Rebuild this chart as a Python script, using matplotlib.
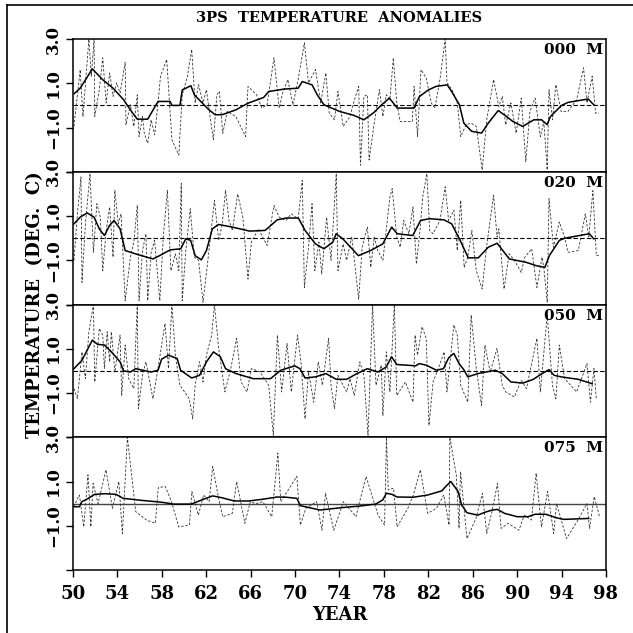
import matplotlib
matplotlib.use("Agg")
import matplotlib.pyplot as plt
from matplotlib.lines import Line2D

# ---- data (year, deg C) ----
depths = ['000  M', '020  M', '050  M', '075  M']

yr_000_raw = [50.09, 50.65, 50.90, 51.43, 51.65, 51.90, 51.96, 52.37, 52.68, 52.99, 53.30, 53.61, 53.93,
              54.24, 54.70, 54.77, 55.17, 55.48, 55.79, 55.95, 56.26, 56.42, 56.73, 57.04, 57.35, 57.66,
              57.88, 58.44, 58.91, 59.53, 59.84, 60.31, 60.69, 61.00, 61.31, 61.71, 62.02, 62.34, 62.65,
              62.96, 63.18, 63.49, 63.89, 64.67, 65.55, 65.76, 66.54, 67.01, 67.48, 68.10, 68.57, 68.88,
              69.35, 69.81, 70.28, 70.84, 71.21, 71.84, 72.31, 72.77, 73.08, 73.55, 73.86, 74.33, 74.95,
              75.26, 75.73, 75.89, 76.20, 76.51, 76.67, 77.13, 77.60, 77.91, 78.22, 78.54, 78.85, 79.16,
              79.47, 80.56, 80.72, 81.03, 81.34, 81.81, 82.27, 82.59, 83.05, 83.52, 83.68, 84.14, 84.61,
              84.92, 85.39, 85.86, 86.32, 86.85, 87.26, 87.88, 88.35, 88.66, 88.97, 89.44, 89.91, 90.37,
              90.78, 91.15, 91.62, 92.09, 92.40, 92.71, 92.87, 93.18, 93.49, 93.96, 94.58, 95.36, 95.98,
              96.29, 96.76, 97.07, 97.38]
t_000_raw = [-0.95, 1.62, -0.5, 3.0, 1.32, 3.0, -0.5, 0.71, 2.15, 0.11, 1.47, 0.41, 1.02,
             0.56, 1.95, -0.88, 0.03, -0.95, 0.48, -1.41, -0.5, -1.26, -1.71, -0.65, -1.33, 0.11,
             1.32, 2.08, -1.56, -2.24, 0.48, 1.32, 2.53, 0.11, 0.94, 0.11, 0.71, -0.5, -1.56,
             0.48, 0.64, -1.26, -0.27, -0.5, -1.41, 0.86, 0.48, -0.12, 0.03, 2.15, -0.12, 0.56,
             1.17, 0.03, 1.17, 2.83, 1.02, 1.62, 0.11, 1.47, -0.35, -0.65, 0.64, -0.95, -0.5,
             0.11, 0.86, -2.7, 0.41, 0.48, -2.47, -0.8, 0.71, -0.5, 0.48, 0.26, 2.15, 0.11,
             -0.73, -0.73, 0.86, -1.41, 1.62, 1.24, 0.11, -0.12, 1.17, 3.0, 1.02, 0.71, 0.11,
             -1.41, -0.88, -0.8, -0.95, -2.92, -0.65, 1.17, -0.05, 0.41, -0.88, 0.11, -1.26, 0.33,
             -2.55, -0.27, 0.33, -1.41, -0.73, -2.92, 0.71, -0.65, 0.94, -0.27, -0.27, 0.26, 1.7,
             0.11, 1.32, -0.35, -0.35]
yr_000_smooth = [50.1, 50.65, 51.74, 52.68, 53.61, 54.55, 55.17, 55.79, 56.73, 57.66, 58.75, 58.91, 59.63,
                 59.84, 60.62, 60.93, 62.18, 62.8, 63.43, 64.67, 65.76, 67.17, 67.63, 69.03, 70.28, 70.65,
                 71.53, 72.0, 72.6, 74.0, 75.3, 76.2, 77.1, 77.8, 78.5, 79.2, 80.7, 81.2, 82.0, 82.7,
                 83.7, 84.1, 84.8, 85.2, 85.9, 86.8, 87.4, 88.3, 88.96, 89.6, 90.5, 91.5, 92.2, 92.7,
                 93.0, 94.0, 94.6, 96.4, 96.9]
t_000_smooth = [0.53, 0.78, 1.65, 1.16, 0.78, 0.26, -0.2, -0.62, -0.62, 0.18, 0.18, 0.0, 0.0,
                0.7, 0.89, 0.48, -0.17, -0.42, -0.42, -0.2, 0.1, 0.36, 0.63, 0.74, 0.78, 1.08,
                0.93, 0.48, 0.03, -0.27, -0.45, -0.65, -0.32, 0.03, 0.33, -0.12, -0.12, 0.4, 0.7, 0.86,
                0.93, 0.63, 0.03, -0.8, -1.17, -1.25, -0.8, -0.23, -0.47, -0.72, -0.95, -0.65, -0.65, -0.87,
                -0.5, 0.0, 0.14, 0.29, 0.03]

yr_020_raw = [50.09, 50.40, 50.72, 50.81, 51.12, 51.53, 51.84, 52.15, 52.46, 52.68, 52.99, 53.30, 53.61,
              53.77, 54.08, 54.33, 54.70, 55.17, 55.48, 55.79, 55.95, 56.26, 56.57, 56.73, 57.04, 57.35,
              57.82, 58.13, 58.50, 58.82, 59.22, 59.53, 59.75, 59.84, 60.16, 60.56, 60.93, 61.31, 61.71,
              62.18, 62.74, 63.12, 63.43, 63.74, 64.05, 64.36, 64.83, 65.30, 65.76, 66.07, 66.70, 67.48,
              68.10, 68.57, 69.19, 69.66, 70.28, 70.65, 70.84, 71.21, 71.53, 71.78, 72.15, 72.40, 72.84,
              73.24, 73.71, 73.86, 74.33, 74.64, 75.11, 75.73, 76.04, 76.51, 76.82, 77.13, 77.45, 77.91,
              78.22, 78.54, 78.75, 79.16, 79.47, 79.78, 80.25, 80.62, 80.93, 81.25, 81.50, 81.87, 82.12,
              82.43, 83.05, 83.52, 83.83, 84.30, 84.61, 84.92, 85.23, 85.55, 85.92, 86.32, 86.85, 87.26,
              87.88, 88.19, 88.35, 88.82, 89.28, 89.75, 90.37, 90.69, 91.31, 91.78, 92.24, 92.40, 92.71,
              92.87, 93.27, 93.80, 94.27, 94.58, 95.51, 96.14, 96.45, 96.82, 97.13, 97.38]
t_020_raw = [-1.0, 1.1, 2.77, -2.0, 0.65, 2.92, -0.64, 1.56, 0.95, -1.47, 0.35, 1.41, -0.86,
             2.17, 0.65, 1.1, -2.83, -0.86, -0.18, 1.48, -2.83, -0.56, 0.2, -2.83, -0.64, -0.1,
             -2.83, 0.05, 2.17, -1.47, -0.71, -1.47, 2.47, -2.83, -0.56, 1.33, -0.86, -1.0, -2.9,
             -0.86, 1.71, -0.1, 0.58, 2.17, 0.8, 0.35, 2.0, 0.95, -1.85, -0.18, 0.42, -0.33,
             1.48, 0.95, 0.8, 1.1, 0.88, 2.62, -2.23, -0.41, 1.56, -1.47, -0.18, -1.62, 0.95,
             -1.0, 2.92, -1.47, -0.26, -1.0, 0.05, -2.76, -0.41, 0.5, -1.32, 0.05, -0.56, -1.0,
             0.42, 1.86, 2.24, 0.05, -0.41, 0.8, 0.2, 1.41, -1.17, 0.35, 1.86, 2.92, 0.35,
             0.2, 0.8, 2.32, 0.8, 1.26, -0.56, 1.71, -1.32, -0.86, 0.35, -1.47, -2.3, -0.33,
             1.94, 0.05, 0.42, -2.3, -0.71, -1.0, -1.55, -0.86, -0.48, -2.23, -0.86, -1.32, -2.9,
             1.79, -0.41, 0.73, 0.05, -0.64, -0.56, 1.1, 0.05, 2.15, -0.79, -0.79]
yr_020_smooth = [50.1, 50.65, 51.28, 51.9, 52.37, 52.83, 53.3, 53.7, 54.24, 54.7, 55.64, 57.2, 57.8,
                 58.75, 59.7, 60.16, 60.6, 61.0, 61.56, 62.02, 62.55, 63.1, 64.36, 65.9, 67.3, 68.4,
                 69.2, 70.3, 70.9, 71.84, 72.6, 73.4, 73.7, 74.3, 75.7, 76.8, 77.9, 78.7, 79.2,
                 80.6, 81.3, 82.1, 83.4, 84.1, 84.8, 85.6, 86.5, 87.4, 88.2, 89.3, 90.8, 91.7,
                 92.5, 92.9, 93.8, 94.3, 96.5, 96.9]
t_020_smooth = [0.65, 0.95, 1.14, 0.95, 0.42, 0.12, 0.58, 0.8, 0.42, -0.56, -0.71, -0.94, -0.79,
                -0.53, -0.48, -0.03, -0.1, -0.79, -0.98, -0.56, 0.42, 0.62, 0.5, 0.32, 0.35, 0.83,
                0.91, 0.91, 0.35, -0.26, -0.48, -0.18, 0.2, -0.03, -0.79, -0.56, -0.26, 0.5, 0.2,
                0.12, 0.8, 0.88, 0.83, 0.65, -0.03, -0.89, -0.89, -0.41, -0.23, -0.94, -1.09, -1.24,
                -1.32, -0.79, -0.1, 0.0, 0.2, -0.03]

yr_050_raw = [50.09, 50.40, 50.81, 51.12, 51.43, 51.84, 51.96, 52.37, 52.68, 52.83, 53.08, 53.30, 53.46,
              53.77, 54.24, 54.39, 54.70, 55.02, 55.48, 55.79, 55.89, 56.26, 56.57, 57.20, 57.66, 57.98,
              58.29, 58.60, 58.91, 59.22, 59.63, 60.16, 60.47, 60.78, 61.00, 61.40, 61.71, 62.02, 62.49,
              62.74, 63.12, 63.68, 64.21, 64.74, 65.14, 65.67, 66.07, 66.85, 67.63, 68.04, 68.41, 68.79,
              69.28, 69.66, 70.22, 70.53, 70.90, 71.21, 71.68, 72.09, 72.46, 73.02, 73.24, 73.55, 73.86,
              74.64, 74.95, 75.33, 75.83, 76.20, 76.57, 76.98, 77.29, 77.76, 77.91, 78.22, 78.54, 78.94,
              79.16, 79.94, 80.62, 80.81, 81.03, 81.43, 81.81, 82.06, 82.43, 82.90, 83.43, 83.68, 84.30,
              84.61, 84.92, 85.55, 85.86, 86.32, 86.79, 87.10, 87.57, 88.19, 88.66, 88.97, 89.75, 90.37,
              90.84, 91.78, 92.09, 92.71, 93.18, 93.49, 93.80, 94.27, 95.36, 96.29, 96.60, 96.92, 97.13]
t_050_raw = [-0.8, -1.26, 0.86, -0.35, 1.77, 3.0, -0.5, 1.92, 1.62, 0.11, 1.77, 0.41, 1.77,
             -0.05, 1.62, -1.11, 1.17, -0.35, -0.8, 3.0, -1.71, -0.2, 0.41, -1.26, 0.11, 1.17,
             2.15, 0.11, 3.0, 0.71, -0.65, -1.03, -1.26, -2.17, -0.65, 0.41, -0.5, 0.71, 1.62,
             3.0, 1.02, -0.95, 0.11, 1.47, -0.5, -0.95, 0.11, -0.05, -0.65, -2.92, 1.62, -0.95,
             1.24, -0.95, 1.62, 0.41, -2.17, -0.05, -1.41, 0.41, -0.65, 1.47, -0.65, -1.71, -0.2,
             -0.95, -0.35, -1.11, 0.41, -0.2, -2.92, 3.0, -0.65, 0.26, -2.02, 0.86, -0.95, 3.0,
             -1.11, -0.5, -1.41, 1.62, 0.71, 2.0, 1.47, -2.47, -0.5, 0.11, 0.86, -0.95, 2.08,
             1.62, -0.65, -1.41, 2.53, 0.11, -1.56, 1.17, -0.05, 1.02, -0.65, -0.95, -1.18, -0.42,
             -0.8, 1.47, -0.95, 2.53, -0.65, -1.26, 1.17, -0.35, -0.95, 0.33, -1.41, 0.11, -1.26]
yr_050_smooth = [50.09, 50.81, 51.74, 52.21, 52.83, 53.46, 54.24, 54.55, 55.17, 55.64, 57.04, 57.66, 57.98,
                 58.60, 59.38, 59.69, 60.69, 61.40, 62.02, 62.65, 63.27, 63.74, 64.67, 66.23, 67.79, 68.72,
                 69.97, 70.44, 70.90, 71.84, 72.77, 73.71, 74.64, 75.58, 76.51, 77.45, 78.22, 78.69, 79.16,
                 80.87, 81.18, 81.81, 82.74, 83.36, 83.83, 84.30, 84.77, 85.23, 85.55, 86.48, 88.04, 88.66,
                 89.44, 90.53, 91.46, 92.09, 92.87, 93.33, 93.96, 95.51, 96.76]
t_050_smooth = [0.1, 0.48, 1.39, 1.2, 1.17, 0.86, 0.41, 0.0, -0.05, 0.1, -0.05, 0.03, 0.53,
                0.71, 0.56, 0.03, -0.32, -0.2, 0.41, 0.86, 0.64, 0.1, -0.12, -0.35, -0.35, 0.03,
                0.23, 0.1, -0.32, -0.27, -0.12, -0.38, -0.38, -0.12, 0.1, -0.05, 0.18, 0.64, 0.29,
                0.23, 0.33, 0.26, 0.03, 0.1, 0.59, 0.79, 0.33, 0.03, -0.27, -0.12, 0.03, -0.12,
                -0.5, -0.55, -0.38, -0.17, 0.06, -0.2, -0.27, -0.38, -0.58]

yr_075_raw = [50.06, 50.58, 50.97, 51.35, 51.61, 51.81, 52.26, 52.97, 53.55, 54.13, 54.45, 54.90, 55.65,
              56.61, 57.42, 57.68, 58.32, 58.87, 59.52, 60.48, 60.71, 61.29, 61.77, 62.26, 62.58, 63.06,
              63.48, 64.35, 64.74, 65.48, 65.97, 66.45, 67.10, 67.90, 68.45, 68.71, 70.16, 70.48, 70.97,
              71.94, 72.42, 72.74, 73.48, 74.35, 75.48, 76.39, 77.48, 78.06, 78.23, 78.39, 78.87, 79.19,
              80.16, 80.65, 81.29, 81.94, 82.74, 83.39, 83.87, 83.94, 84.52, 84.77, 84.90, 85.48, 86.29,
              86.87, 87.26, 87.74, 88.23, 88.55, 89.19, 90.16, 90.65, 91.29, 91.71, 92.19, 92.74, 93.29,
              93.55, 94.45, 95.48, 96.29, 96.52, 96.94, 97.42]
t_075_raw = [-0.14, 0.39, -1.05, 1.3, -1.05, 0.92, 0.0, 1.53, -0.21, 1.0, -1.35, 3.0, -0.36,
             -0.74, -0.89, 0.73, 0.77, 0.09, -1.05, -0.97, 0.55, -0.52, 0.39, 0.09, 1.68, 0.39,
             -0.59, -0.44, 1.0, -0.89, 0.09, 0.0, 0.09, -0.59, 2.29, 0.09, 1.23, -0.97, -0.21,
             0.09, -1.2, 0.47, -1.2, 0.09, -0.59, 1.23, -0.52, -0.97, 3.0, 0.62, 0.7, -1.05,
             -0.21, 0.39, 1.53, -0.44, -0.21, 0.39, -0.97, 3.0, 1.3, -1.12, 1.45, -1.58, -0.67,
             0.47, -1.35, -0.36, 0.92, -1.12, -0.89, -1.2, -0.52, -0.74, 1.38, -1.05, 0.55, -1.35,
             0.0, -1.58, -0.74, 0.0, -1.12, 0.32, -0.59]
yr_075_smooth = [50.06, 50.58, 50.8, 51.29, 51.94, 52.9, 53.87, 54.52, 56.13, 58.06, 59.03, 60.65, 61.61,
                 62.58, 63.39, 64.52, 65.81, 67.1, 68.39, 69.19, 70.16, 70.48, 72.26, 74.19, 75.81, 77.26,
                 77.9, 78.23, 78.71, 79.19, 80.65, 81.94, 83.23, 83.55, 84.03, 84.68, 85.0, 85.48, 86.45,
                 87.1, 87.74, 88.23, 88.87, 90.0, 90.97, 91.61, 92.58, 93.55, 94.19, 96.45]
t_075_smooth = [-0.14, -0.14, 0.09, 0.21, 0.42, 0.45, 0.42, 0.24, 0.15, 0.06, -0.02, -0.02, 0.17,
                0.35, 0.27, 0.12, 0.12, 0.2, 0.3, 0.29, 0.24, -0.09, -0.29, -0.18, -0.11, -0.02,
                0.17, 0.47, 0.42, 0.3, 0.29, 0.39, 0.58, 0.77, 1.0, 0.55, -0.06, -0.41, -0.52,
                -0.39, -0.29, -0.26, -0.44, -0.59, -0.59, -0.48, -0.48, -0.64, -0.71, -0.67]

raw_years = [yr_000_raw, yr_020_raw, yr_050_raw, yr_075_raw]
raw_temps = [t_000_raw, t_020_raw, t_050_raw, t_075_raw]
smooth_years = [yr_000_smooth, yr_020_smooth, yr_050_smooth, yr_075_smooth]
smooth_temps = [t_000_smooth, t_020_smooth, t_050_smooth, t_075_smooth]

year_ticks = list(range(50, 99, 4))
temp_ticks = [-3, -1, 1, 3]
temp_labels = ['', '\u22121.0', '1.0', '3.0']

plt.rcParams['font.family'] = ['DejaVu Serif']
plt.rcParams['font.weight'] = 'bold'

fig = plt.figure(figsize=(6.33, 6.33), dpi=100)

# panel geometry (figure fractions)
left, width = 0.1153, 0.842
height = 0.2097
bottom0 = 0.0995

axes = []
for i in range(4):
    ax = fig.add_axes([left, bottom0 + (3 - i) * height, width, height])
    axes.append(ax)

    ax.plot(raw_years[i], raw_temps[i], color='#333333', lw=0.6, ls=(0, (3, 2)), zorder=2)
    ax.plot(smooth_years[i], smooth_temps[i], color='black', lw=1.1, zorder=3)
    if i < 3:
        ax.axhline(0, color='black', lw=0.8, ls=(0, (4, 2)), zorder=1)
    else:
        ax.axhline(0, color='#444444', lw=1.0, zorder=1)

    ax.set_xlim(50, 98)
    ax.set_ylim(-3, 3)
    ax.set_yticks(temp_ticks)
    ax.set_yticklabels(temp_labels, rotation=90, va='center', fontsize=12, fontweight='bold')
    ax.tick_params(axis='y', direction='out', length=5, width=1.0, pad=3)
    for s in ax.spines.values():
        s.set_linewidth(1.1)

    ax.text(0.995, 0.97, depths[i], transform=ax.transAxes, ha='right', va='top',
            fontsize=11, fontweight='bold')

    if i < 3:
        ax.set_xticks([])
    else:
        ax.set_xticks(year_ticks)
        ax.set_xticklabels([str(y) for y in year_ticks], fontsize=13, fontweight='bold')
        ax.tick_params(axis='x', direction='out', length=5, width=1.0, pad=6)
        ax.set_xlabel('YEAR', fontsize=13, fontweight='bold', labelpad=2)

fig.text(left + width / 2, 1 - 18 / 633, '3PS  TEMPERATURE  ANOMALIES', ha='center', va='center',
         fontsize=10.5, fontweight='bold')
fig.text(35 / 633, bottom0 + 2 * height, 'TEMPERATURE  (DEG.  C)', rotation=90, ha='center', va='center',
         fontsize=13, fontweight='bold')

# outer frame (top and left edges visible in the reference)
fig.add_artist(Line2D([7 / 633, 7 / 633], [0, 1 - 5 / 633], transform=fig.transFigure, color='black', lw=1.2))
fig.add_artist(Line2D([7 / 633, 1], [1 - 5 / 633, 1 - 5 / 633], transform=fig.transFigure, color='black', lw=1.2))

plt.savefig('out.png', dpi=100)
